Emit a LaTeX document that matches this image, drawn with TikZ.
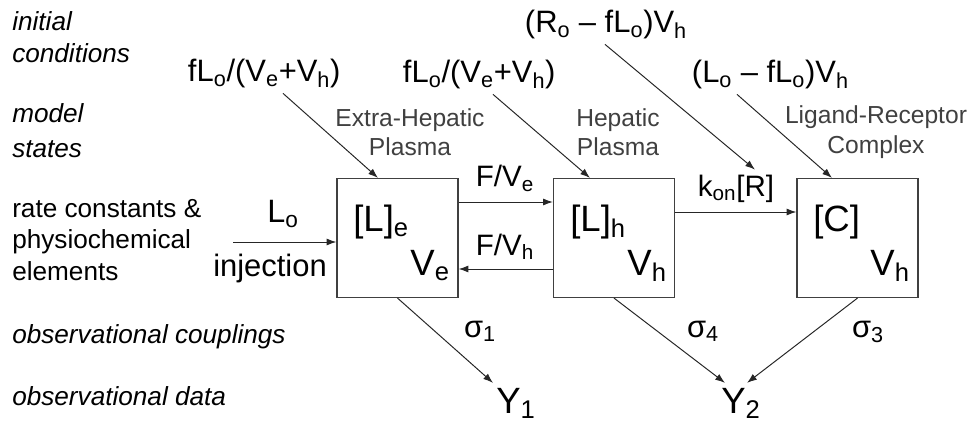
\documentclass[tikz,border=0pt]{standalone}
\usepackage{fontspec}
\setmainfont{Liberation Sans}
\usetikzlibrary{arrows.meta}
\newcommand{\sub}[1]{\textsubscript{#1}}

\begin{document}
\begin{tikzpicture}[x=0.025cm, y=-0.025cm,
  side/.style={anchor=base west, inner sep=0pt, font=\fontsize{18.6}{22}\selectfont},
  sideit/.style={side, font=\fontsize{18.6}{22}\selectfont\itshape},
  init/.style={anchor=base west, font=\fontsize{22}{26}\selectfont},
  state/.style={align=center, text=black!75, font=\fontsize{17.5}{21}\selectfont},
  compartment/.style={draw=black!75, line width=0.8pt, inner sep=0pt, minimum width=3.025cm, minimum height=2.975cm},
  inbox/.style={inner sep=0pt, font=\fontsize{26}{30}\selectfont},
  rate/.style={anchor=base, font=\fontsize{21}{24}\selectfont},
  flow/.style={-{Latex[length=7pt, width=5pt]}, line width=0.7pt, draw=black!85}]
\useasboundingbox (0,0) rectangle (972,426);
\node [sideit] (ic1) at (12,31) {initial};
\node [sideit] (ic2) at (12,63) {conditions};
\node [sideit] (ms1) at (12,123) {model};
\node [sideit] (ms2) at (12,157) {states};
\node [side] (rc1) at (12,218) {rate constants \&};
\node [side] (rc2) at (12,248) {physiochemical};
\node [side] (rc3) at (12,280) {elements};
\node [sideit] (oc) at (12,343) {observational couplings};
\node [sideit] (od) at (12,405) {observational data};
\node [init] (ini1) at (183,82) {fL\sub{o}/(V\sub{e}+V\sub{h})};
\node [init] (ini2) at (398,83) {fL\sub{o}/(V\sub{e}+V\sub{h})};
\node [init] (ini3) at (520,33) {(R\sub{o} – fL\sub{o})V\sub{h}};
\node [init] (ini4) at (687,83) {(L\sub{o} – fL\sub{o})V\sub{h}};
\node [state] (st1) at (410,132) {Extra-Hepatic\\Plasma};
\node [state] (st2) at (618,132) {Hepatic\\Plasma};
\node [state] (st3) at (876,132) {Ligand-Receptor\\Complex};
\node [compartment] (ext) at (397.5,238) {};
\node [compartment] (hep) at (614,238) {};
\node [compartment] (cpx) at (857.5,238) {};
\node [inbox, anchor=base west] (le) at (353,231) {[L]\sub{e}};
\node [inbox, anchor=base east] (ve) at (450,275) {V\sub{e}};
\node [inbox, anchor=base west] (lh) at (570,231) {[L]\sub{h}};
\node [inbox, anchor=base east] (vh) at (667,275) {V\sub{h}};
\node [inbox, anchor=base west] (cc) at (813,231) {[C]};
\node [inbox, anchor=base east] (vc) at (910,275) {V\sub{h}};
\node [anchor=base, font=\fontsize{23}{26}\selectfont] (lo) at (283,222) {L\sub{o}};
\node [anchor=base, font=\fontsize{22}{26}\selectfont] (inj) at (270,276) {injection};
\node [rate] (fve) at (505,187) {F/V\sub{e}};
\node [rate] (fvh) at (505,255) {F/V\sub{h}};
\node [rate] (kon) at (736,196) {k\sub{on}[R]};
\node [anchor=base, font=\fontsize{22}{26}\selectfont] (s1) at (480,337) {σ\sub{1}};
\node [anchor=base, font=\fontsize{22}{26}\selectfont] (s4) at (703,337) {σ\sub{4}};
\node [anchor=base, font=\fontsize{22}{26}\selectfont] (s3) at (868,337) {σ\sub{3}};
\node [anchor=base, font=\fontsize{26}{30}\selectfont] (y1) at (516,413) {Y\sub{1}};
\node [anchor=base, font=\fontsize{26}{30}\selectfont] (y2) at (741,413) {Y\sub{2}};
\coordinate (src) at (233,242);
\draw [flow] (src) to (ext.west |- 0,242);
\draw [flow] (ext.east |- 0,202) to (hep.west |- 0,202);
\draw [flow] (hep.west |- 0,269) to (ext.east |- 0,269);
\draw [flow] (hep.east |- 0,212) to (cpx.west |- 0,212);
\draw [flow] (ini1.south -| 283,0) to (ext.north -| 378,0);
\draw [flow] (ini2.south -| 493,0) to (hep.north -| 590,0);
\draw [flow] (ini3.south -| 605,0) to (kon.north -| 755,0);
\draw [flow] (ini4.south -| 737,0) to (cpx.north -| 832,0);
\draw [flow] (ext.south) to (y1.north -| 493,0);
\draw [flow] (hep.south) to (y2.north -| 725,0);
\draw [flow] (cpx.south) to (y2.north -| 747,0);
\end{tikzpicture}
\end{document}
